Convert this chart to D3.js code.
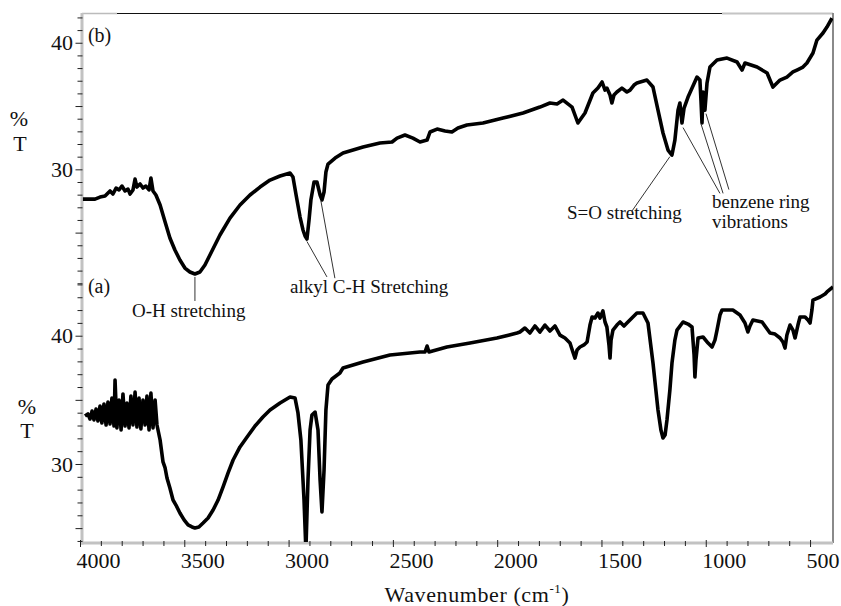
<!DOCTYPE html>
<html>
<head>
<meta charset="utf-8">
<script src="https://cdn.jsdelivr.net/npm/d3@7"></script>
</head>
<body style="margin:0; background:#fff">
<div id="chartContainer"></div>
<script>
"use strict";

// spectrum (b), upper trace: wavenumber (cm-1) and %T
var waveB = [3986,3928,3904,3880,3856,3842,3827,3813,3799,3784,3770,3760,3746,3736,3727,3712,3698,3684,3669,3660,3650,3636,3616,3592,3569,3545,3521,3497,3473,3449,3425,3401,3377,3329,3281,3233,3185,3137,3089,3041,2993,2979,2964,2945,2931,2921,2912,2902,2893,2878,2864,2849,2840,2830,2821,2811,2777,2739,2643,2562,2504,2480,2442,2404,2370,2336,2322,2288,2250,2217,2188,2145,2068,1972,1876,1795,1747,1713,1684,1641,1613,1579,1541,1517,1497,1483,1474,1459,1450,1440,1426,1402,1378,1363,1344,1330,1282,1253,1229,1205,1181,1162,1148,1133,1124,1114,1104,1085,1042,1028,1023,1018,1013,1004,994,980,946,898,850,826,812,754,706,678,644,611,582,563,534,515,486,467,438,419,395];
var transB = [27.65,27.65,27.81,27.89,28.29,28.05,28.52,28.37,28.68,28.29,28.44,28.05,28.37,29.23,28.6,28.84,28.52,28.68,28.37,29.31,28.29,27.97,27.18,25.84,24.57,23.63,22.84,22.2,21.89,21.73,21.89,22.44,23.23,24.81,26.15,27.18,27.97,28.6,29.15,29.47,29.71,29.39,27.97,26.23,25.21,24.73,24.49,26.0,27.58,29.0,29.0,27.97,27.58,28.21,29.79,30.42,30.89,31.29,31.76,32.08,32.16,32.47,32.71,32.47,32.16,32.31,32.95,33.18,33.03,32.95,33.26,33.5,33.66,34.05,34.45,34.92,35.24,35.16,35.47,34.92,33.66,34.45,36.03,36.42,36.9,36.26,36.42,35.87,35.24,35.87,36.11,36.42,36.11,36.26,36.66,36.82,37.05,36.5,34.68,32.87,31.52,31.13,32.31,34.68,35.24,33.66,34.84,35.71,37.29,37.05,35.47,33.66,36.11,34.68,36.82,38.08,38.63,38.79,38.48,37.84,38.4,38.08,37.61,36.5,37.05,37.29,37.69,37.84,38.08,38.4,39.19,40.21,40.77,41.24,41.95];

// spectrum (a), lower trace
var waveA = [3976,3962,3952,3942,3933,3923,3914,3904,3895,3885,3875,3866,3856,3847,3837,3832,3823,3813,3803,3794,3784,3775,3765,3756,3746,3736,3727,3717,3708,3698,3688,3679,3669,3660,3650,3640,3631,3616,3602,3592,3583,3569,3554,3540,3521,3501,3482,3463,3449,3430,3410,3386,3362,3338,3314,3290,3266,3233,3199,3161,3123,3089,3041,2993,2969,2955,2941,2926,2917,2907,2897,2888,2873,2859,2849,2840,2830,2821,2811,2792,2754,2739,2643,2514,2370,2346,2336,2327,2241,2130,2001,1905,1891,1867,1843,1819,1795,1771,1747,1723,1699,1675,1651,1637,1627,1617,1603,1584,1569,1555,1545,1531,1517,1507,1493,1483,1474,1464,1459,1454,1445,1426,1411,1392,1378,1354,1330,1301,1277,1253,1229,1215,1205,1195,1186,1172,1162,1148,1138,1109,1085,1066,1056,1052,1047,1037,1013,989,970,956,946,932,922,870,836,812,798,788,774,730,692,668,644,630,620,611,596,582,572,558,548,524,510,500,491,486,452,428,419,390];
var transA = [33.74,33.9,33.51,34.13,33.43,34.29,33.35,34.52,33.2,34.68,33.04,34.83,33.12,35.14,32.96,36.55,32.81,34.99,32.65,35.46,32.96,34.75,32.81,35.3,33.04,35.61,32.88,35.14,32.73,34.99,33.04,35.3,32.65,35.53,32.81,34.99,33.04,31.87,30.16,29.69,28.91,28.13,27.19,26.8,26.18,25.64,25.25,25.09,25.01,25.09,25.4,25.79,26.41,27.19,28.21,29.3,30.31,31.33,32.1,32.96,33.66,34.21,34.75,35.22,35.14,33.98,31.87,27.19,23.3,28.75,32.65,33.82,34.05,32.65,28.75,26.26,29.53,34.21,36.16,36.63,37.09,37.48,37.95,38.5,38.73,38.73,39.2,38.73,39.12,39.43,39.82,40.21,40.29,40.6,40.21,40.76,40.29,40.83,40.37,40.76,40.05,39.82,39.43,38.73,38.26,38.89,39.12,39.28,39.51,40.83,41.46,41.38,41.77,41.38,41.93,41.07,40.68,39.28,38.26,39.66,40.44,40.83,41.07,40.76,40.99,41.38,41.77,41.77,40.99,37.87,34.21,32.65,32.03,32.26,33.43,35.77,37.87,39.66,40.44,41.07,40.91,40.68,38.5,36.78,38.11,39.82,39.9,39.43,39.12,39.66,40.44,41.61,42.0,42.0,41.61,40.99,40.29,40.76,41.22,41.07,40.21,40.13,39.82,39.51,39.04,40.05,40.83,40.44,39.82,40.83,41.46,41.46,41.22,40.99,42.0,42.78,43.02,43.25,43.41,43.8];

var xLabelTicks = [4000, 3500, 3000, 2500, 2000, 1500, 1000, 500];
var yLabelTicks = [30, 40];

// annotation texts and leader lines, in upper-panel units (wavenumber, %T)
var noteTexts = [
	{ label: "O-H stretching", w: 3751, v: 18.33 },
	{ label: "alkyl C-H Stretching", w: 2993, v: 20.23 },
	{ label: "S=O stretching", w: 1665, v: 26.07 },
	{ label: "benzene ring", w: 970, v: 26.94 },
	{ label: "vibrations", w: 970, v: 25.36 }
];
var noteLines = [
	[3449, 21.5, 3449, 19.6],
	[2912, 24.3, 2816, 21.5],
	[2845, 27.5, 2778, 21.4],
	[1172, 31.0, 1354, 26.7],
	[1109, 33.3, 932, 28.1],
	[1023, 33.6, 917, 28.1],
	[999, 34.4, 889, 28.4]
];

const width = 841, height = 606;
const plotLeft = 80, plotRight = 833, plotTop = 13, plotMid = 283, plotBottom = 543;
const serif = '"Liberation Serif", "Times New Roman", serif';

let svg = d3.select("#chartContainer").append("svg")
	.attr("width", width)
	.attr("height", height)
	.style("font-family", serif);

let x = d3.scaleLinear().domain([4000, 390]).range([plotLeft, plotRight]);
let yTop = d3.scaleLinear().domain([21.02, 42.35]).range([plotMid, plotTop]);
let yBot = d3.scaleLinear().domain([23.84, 44.11]).range([plotBottom, plotMid]);

let defs = svg.append("defs");
defs.append("clipPath").attr("id", "clipTop").append("rect")
	.attr("x", plotLeft).attr("y", plotTop).attr("width", plotRight - plotLeft).attr("height", plotMid - plotTop);
defs.append("clipPath").attr("id", "clipBot").append("rect")
	.attr("x", plotLeft).attr("y", plotMid).attr("width", plotRight - plotLeft).attr("height", plotBottom - plotMid - 1);

// frame: grey axis lines, top and right edges
svg.append("line").attr("x1", 82).attr("x2", 117).attr("y1", plotTop + 0.5).attr("y2", plotTop + 0.5)
	.attr("stroke", "#bbb").attr("stroke-width", 1.5);
svg.append("line").attr("x1", 117).attr("x2", 722).attr("y1", plotTop + 0.5).attr("y2", plotTop + 0.5)
	.attr("stroke", "#111").attr("stroke-width", 1.2);
svg.append("line").attr("x1", 722).attr("x2", plotRight).attr("y1", plotTop + 0.5).attr("y2", plotTop + 0.5)
	.attr("stroke", "#c4c4c4").attr("stroke-width", 2);
svg.append("line").attr("x1", plotRight).attr("x2", plotRight).attr("y1", plotTop).attr("y2", plotBottom)
	.attr("stroke", "#8a8a8a").attr("stroke-width", 2);
svg.append("line").attr("x1", 82).attr("x2", 82).attr("y1", plotTop).attr("y2", plotBottom + 1.5)
	.attr("stroke", "#c2c2c2").attr("stroke-width", 3);
svg.append("line").attr("x1", 80.5).attr("x2", plotRight).attr("y1", plotBottom).attr("y2", plotBottom)
	.attr("stroke", "#c2c2c2").attr("stroke-width", 3);

// left axes, one per panel
function leftAxis(scale, lo, hi) {
	let g = svg.append("g").attr("transform", "translate(82.5,0)")
		.call(d3.axisLeft(scale)
			.tickValues(d3.range(lo, hi + 1))
			.tickSize(5)
			.tickPadding(4.5)
			.tickFormat(d => yLabelTicks.includes(d) ? d : ""));
	g.select(".domain").remove();
	g.selectAll(".tick line").attr("stroke", "#222")
		.attr("x2", d => d % 5 === 0 ? -7 : -5);
	g.selectAll(".tick text")
		.style("font-family", serif)
		.attr("fill", "#111")
		.attr("font-size", 22);
}
leftAxis(yTop, 21, 42);
leftAxis(yBot, 24, 44);

// wavenumber axis
let gx = svg.append("g").attr("transform", `translate(0,${plotBottom - 2})`)
	.call(d3.axisBottom(x)
		.tickValues(d3.range(500, 4001, 100))
		.tickSize(5)
		.tickFormat(d => xLabelTicks.includes(d) ? d : ""));
gx.select(".domain").remove();
gx.selectAll(".tick line").attr("stroke", "#222")
	.attr("y1", d => d % 500 === 0 ? -1 : 0)
	.attr("y2", d => d % 500 === 0 ? 6 : 5);
gx.selectAll(".tick text")
	.style("font-family", serif)
	.attr("fill", "#111")
	.attr("font-size", 22)
	.attr("text-anchor", "start")
	.attr("dy", null)
	.attr("x", -4)
	.attr("y", 27);

let xTitle = svg.append("text")
	.attr("x", 477).attr("y", 602)
	.attr("text-anchor", "middle")
	.attr("fill", "#111")
	.attr("font-size", 22)
	.attr("letter-spacing", 0.6);
xTitle.append("tspan").text("Wavenumber (cm");
xTitle.append("tspan").attr("font-size", 13).attr("dy", -9).text("-1");
xTitle.append("tspan").attr("dy", 9).text(")");

// %T titles
[[19, 126, "%"], [20, 151, "T"], [27, 414, "%"], [27, 438, "T"]].forEach(t => {
	svg.append("text").attr("x", t[0]).attr("y", t[1])
		.attr("text-anchor", "middle").attr("fill", "#111").attr("font-size", 22).text(t[2]);
});

// spectra
let line = (yScale) => d3.line().x(d => x(d[0])).y(d => yScale(d[1]));

svg.append("path")
	.datum(d3.zip(waveB, transB))
	.attr("clip-path", "url(#clipTop)")
	.attr("fill", "none").attr("stroke", "#000")
	.attr("stroke-width", 3.6).attr("stroke-linejoin", "round")
	.attr("d", line(yTop));

svg.append("path")
	.datum(d3.zip(waveA, transA))
	.attr("clip-path", "url(#clipBot)")
	.attr("fill", "none").attr("stroke", "#000")
	.attr("stroke-width", 3.6).attr("stroke-linejoin", "round")
	.attr("d", line(yBot));

// panel letters
svg.append("text").attr("x", x(3962)).attr("y", yTop(40.05)).attr("fill", "#111").attr("font-size", 20).text("(b)");
svg.append("text").attr("x", x(3962)).attr("y", yBot(43.33)).attr("fill", "#111").attr("font-size", 20).text("(a)");

// peak notes
svg.selectAll("line.note")
	.data(noteLines)
	.enter()
	.append("line")
		.attr("class", "note")
		.attr("x1", d => x(d[0])).attr("y1", d => yTop(d[1]))
		.attr("x2", d => x(d[2])).attr("y2", d => yTop(d[3]))
		.attr("stroke", "#333").attr("stroke-width", 1);

svg.selectAll("text.note")
	.data(noteTexts)
	.enter()
	.append("text")
		.attr("class", "note")
		.attr("x", d => x(d.w))
		.attr("y", d => yTop(d.v))
		.attr("fill", "#111")
		.attr("font-size", 19)
		.text(d => d.label);
</script>
</body>
</html>
